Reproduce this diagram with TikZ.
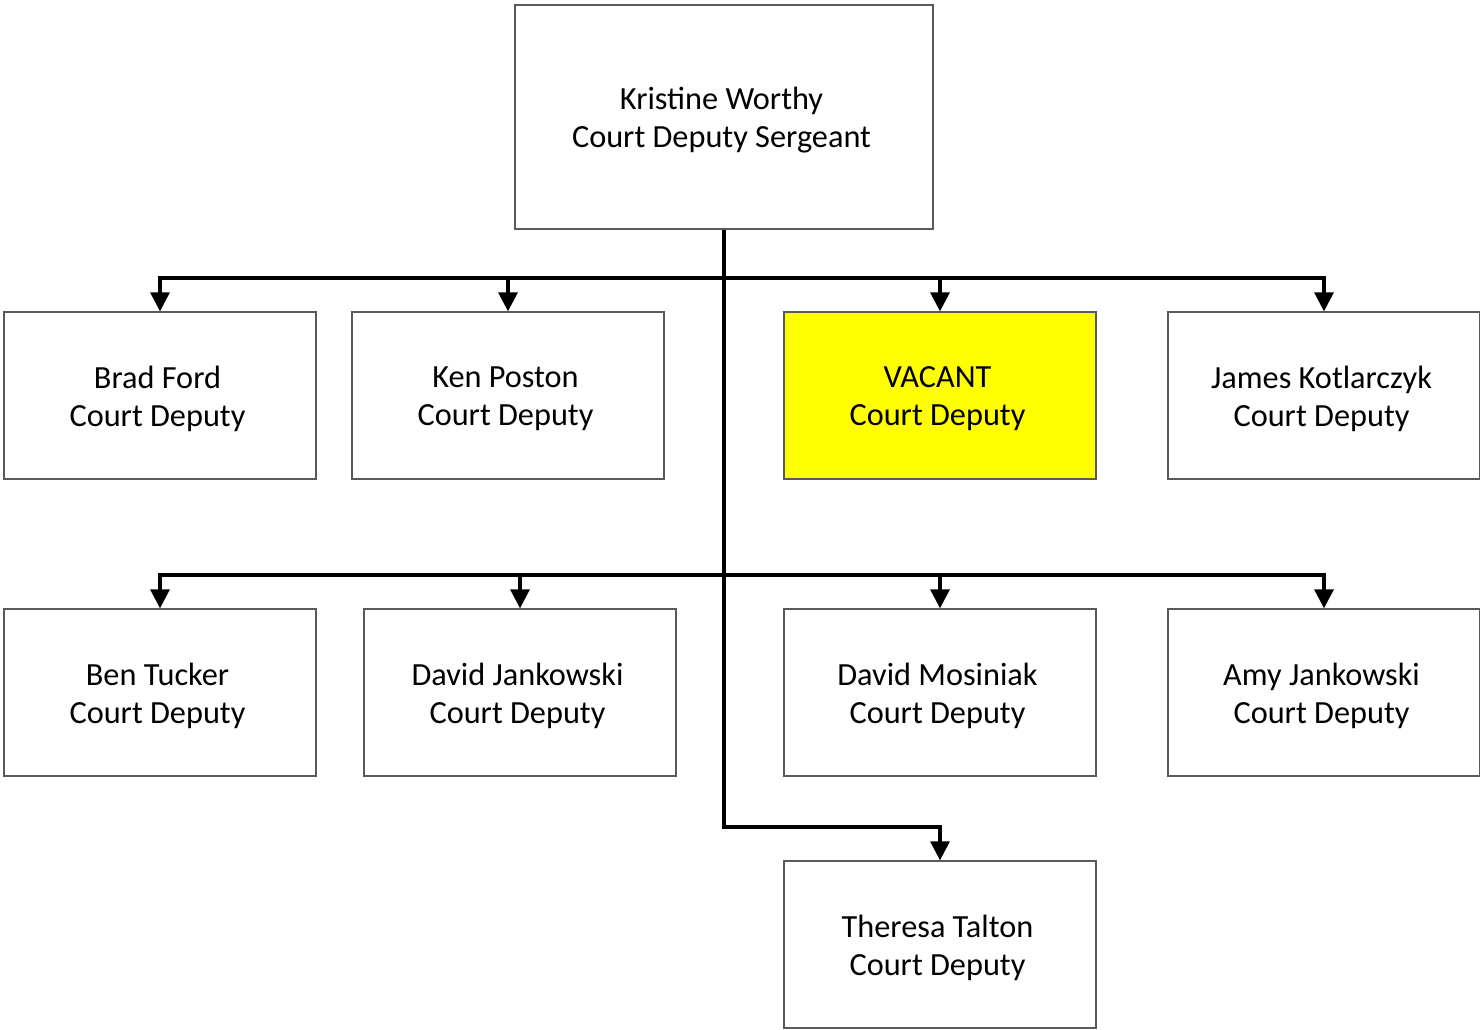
\documentclass[tikz,border=0pt]{standalone}
\usepackage{fontspec}
\setmainfont{Carlito}
\usetikzlibrary{arrows.meta}
\definecolor{boxline}{RGB}{90,90,90}
\definecolor{vacant}{RGB}{255,255,0}
\begin{document}
\begin{tikzpicture}[x=1pt,y=-1pt,
  person/.style={draw=boxline,line width=1.3pt,fill=white,minimum width=312pt,minimum height=167pt,inner sep=0pt},
  txt/.style={align=center,inner sep=0pt,xshift=-2.5pt,yshift=-3pt,font=\fontsize{32.3}{38}\selectfont},
  conn/.style={line width=3.2pt,black},
  arr/.style={conn,-{Triangle[width=19pt,length=19pt]}}]
\useasboundingbox (0,0) rectangle (1480,1029);
\node[person,minimum width=418pt,minimum height=224pt,label={[txt]center:Kristine Worthy\\Court Deputy Sergeant}] (top) at (724,117) {};
\node[person,label={[txt]center:Brad Ford\\Court Deputy}] (a1) at (160,395.5) {};
\node[person,label={[txt]center:Ken Poston\\Court Deputy}] (a2) at (508,395.5) {};
\node[person,fill=vacant,label={[txt]center:VACANT\\Court Deputy}] (a3) at (940,395.5) {};
\node[person,label={[txt]center:James Kotlarczyk\\Court Deputy}] (a4) at (1324,395.5) {};
\node[person,label={[txt]center:Ben Tucker\\Court Deputy}] (b1) at (160,692.5) {};
\node[person,label={[txt]center:David Jankowski\\Court Deputy}] (b2) at (520,692.5) {};
\node[person,label={[txt]center:David Mosiniak\\Court Deputy}] (b3) at (940,692.5) {};
\node[person,label={[txt]center:Amy Jankowski\\Court Deputy}] (b4) at (1324,692.5) {};
\node[person,label={[txt]center:Theresa Talton\\Court Deputy}] (c1) at (940,944.5) {};
\coordinate (j1) at (724,278);
\coordinate (j2) at (724,575);
\coordinate (j3) at (724,827);
\draw[arr] (top.south) -- (j3) -| (c1.north);
\foreach \n in {a1,a2,a3,a4} \draw[arr] (j1) -| (\n.north);
\foreach \n in {b1,b2,b3,b4} \draw[arr] (j2) -| (\n.north);
\end{tikzpicture}
\end{document}
